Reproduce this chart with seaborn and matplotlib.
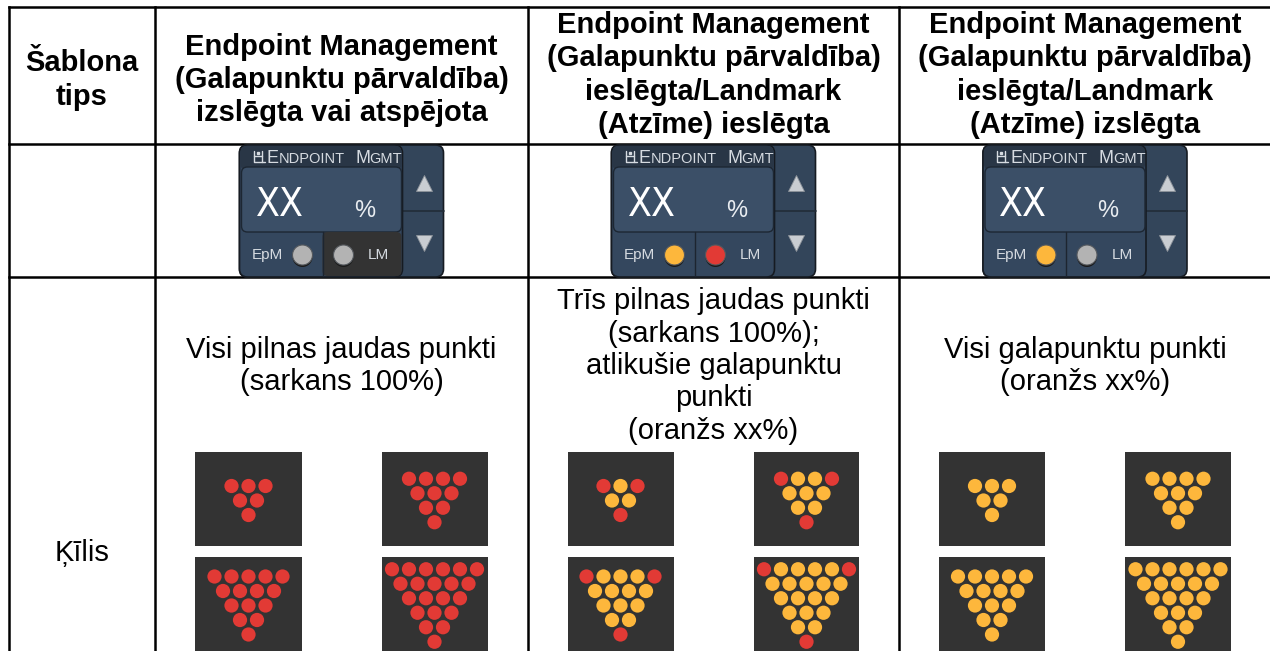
import pandas as pd
import matplotlib
matplotlib.use("Agg")
import matplotlib.pyplot as plt
import seaborn as sns
from matplotlib.patches import FancyBboxPatch, Circle

sns.set_theme(style="white")
plt.rcParams['font.family'] = ['Liberation Sans', 'DejaVu Sans']

# --- table content ---
header_labels = [
    "Šablona\ntips",
    "Endpoint Management\n(Galapunktu pārvaldība)\nizslēgta vai atspējota",
    "Endpoint Management\n(Galapunktu pārvaldība)\nieslēgta/Landmark\n(Atzīme) ieslēgta",
    "Endpoint Management\n(Galapunktu pārvaldība)\nieslēgta/Landmark\n(Atzīme) izslēgta",
]
row_label = "Ķīlis"
mode_texts = [
    "Visi pilnas jaudas punkti\n(sarkans 100%)",
    "Trīs pilnas jaudas punkti\n(sarkans 100%);\natlikušie galapunktu\npunkti\n(oranžs xx%)",
    "Visi galapunktu punkti\n(oranžs xx%)",
]
pin_rows = [3, 4, 5, 6]              # wedge sizes shown in each column
pin_modes = ["full", "mixed", "endpoint"]
epm_led = ["off", "orange", "orange"]
lm_led = ["off", "red", "off"]
lm_disabled = [True, False, False]
widget_value = "XX"

# colours
RED = "#e23a35"
ORANGE = "#fdb73c"
GREY_LED = "#b3b3b3"
led_colors = {"off": GREY_LED, "orange": ORANGE, "red": RED}

# layout (pixels)
W, H = 1270, 651
col_x = [9, 155, 528, 899, 1271]
row_y = [7, 144, 277]


def pin_table(n_rows, mode):
    rows = []
    for r in range(n_rows):
        n = n_rows - r
        for i in range(n):
            corner = (r == 0 and i in (0, n - 1)) or r == n_rows - 1
            if mode == "full" or (mode == "mixed" and corner):
                kind = "full"
            else:
                kind = "endpoint"
            rows.append({"x": (i - (n - 1) / 2) * 17,
                         "y": ((n_rows - 1) / 2 - r) * 14.5,
                         "kind": kind})
    return pd.DataFrame(rows)


def rbox(ax, x, y, w, h, r, fc, ec="none", lw=0.8, z=2):
    ax.add_patch(FancyBboxPatch((x, y), w, h, boxstyle=f"round,pad=0,rounding_size={r}",
                                fc=fc, ec=ec, lw=lw, zorder=z))


def draw_widget(ax, ox, oy, k):
    # arrow column and frame
    rbox(ax, ox, oy, 204, 132, 8, "#33455a", "#161b22", 1.2, 2)
    ax.plot([ox + 163, ox + 204], [oy + 66, oy + 66], color="#222c38", lw=1.2, zorder=3)
    ax.plot([ox + 184], [oy + 38], marker="^", ms=12, color="#c9cdd2", mec="#8d939a", mew=0.6, zorder=4)
    ax.plot([ox + 184], [oy + 98], marker="v", ms=12, color="#c9cdd2", mec="#8d939a", mew=0.6, zorder=4)
    # main panel
    rbox(ax, ox, oy, 163, 132, 8, "#34475e", "#161b22", 1.2, 3)
    rbox(ax, ox + 1, oy + 1, 161, 24, 6, "#293646", "none", 0, 3)
    rbox(ax, ox + 2, oy + 22, 160, 65, 6, "#3b4f67", "#1d2733", 1.0, 4)
    if lm_disabled[k]:
        rbox(ax, ox + 83, oy + 87, 79, 44, 5, "#333333", "none", 0, 4)
    ax.plot([ox + 83, ox + 83], [oy + 87, oy + 131], color="#1d2530", lw=1.0, zorder=5)
    # title
    tc = "#d6dbe1"
    ax.plot([ox + 14, ox + 14, ox + 25], [oy + 6, oy + 17, oy + 17], color=tc, lw=1.0, zorder=6)
    ax.plot([ox + 22, ox + 22], [oy + 6, oy + 17], color=tc, lw=1.0, zorder=6)
    ax.plot([ox + 14, ox + 22], [oy + 11, oy + 11], color=tc, lw=1.0, zorder=6)
    ax.plot([ox + 18], [oy + 8], marker="s", ms=1.5, color=tc, zorder=6)
    ax.text(ox + 27, oy + 18, "E", fontsize=13, color=tc, va="baseline", ha="left", zorder=6)
    ax.text(ox + 39, oy + 18, "NDPOINT", fontsize=10.5, color=tc, va="baseline", ha="left", zorder=6)
    ax.text(ox + 116, oy + 18, "M", fontsize=13, color=tc, va="baseline", ha="left", zorder=6)
    ax.text(ox + 130, oy + 18, "GMT", fontsize=10.5, color=tc, va="baseline", ha="left", zorder=6)
    # value
    ax.text(ox + 40, oy + 60, widget_value, fontsize=28, color="white", ha="center", va="center",
            family=["DejaVu Sans"], fontstretch="condensed", zorder=6)
    ax.text(ox + 125, oy + 66, "%", fontsize=17, color="#e8ecf0", ha="center", va="center", zorder=6)
    # leds
    ax.text(ox + 28, oy + 110, "EpM", fontsize=11, color="#d5dae0", ha="center", va="center", zorder=6)
    ax.text(ox + 139, oy + 110, "LM", fontsize=11, color="#d5dae0", ha="center", va="center", zorder=6)
    for cx, state in ((ox + 63, epm_led[k]), (ox + 104, lm_led[k])):
        ax.add_patch(Circle((cx, oy + 112), 10, fc="#1a1a1a", ec="none", zorder=6))
        ax.add_patch(Circle((cx, oy + 110), 10, fc=led_colors[state], ec="#55595e", lw=0.8, zorder=7))


fig = plt.figure(figsize=(12.7, 6.51), dpi=100)
fig.patch.set_facecolor("white")
ax = fig.add_axes([0, 0, 1, 1])
ax.set_xlim(0, W)
ax.set_ylim(H, 0)
ax.axis("off")

# grid lines
for x in col_x:
    ax.plot([x, x], [row_y[0], H + 5], color="black", lw=1.8, zorder=1, solid_capstyle="projecting")
for y in row_y:
    ax.plot([col_x[0], col_x[-1]], [y, y], color="black", lw=1.8, zorder=1, solid_capstyle="projecting")

centers = [(col_x[i] + col_x[i + 1]) / 2 for i in range(4)]

for i, label in enumerate(header_labels):
    ty = 75 if label.count("\n") >= 3 else 80
    ax.text(centers[i], ty, label, fontsize=21, fontweight="bold", color="black",
            ha="center", va="center", multialignment="center", linespacing=1.24)

ax.text(centers[0], 553, row_label, fontsize=21, color="black", ha="center", va="center")

for k in range(3):
    cx = centers[k + 1]
    draw_widget(ax, cx - 102, 145, k)
    ax.text(cx, 366, mode_texts[k], fontsize=21, color="black", ha="center", va="center",
            multialignment="center", linespacing=1.2)

    # wedge panels
    slots = [(cx - 146, 452), (cx + 40, 452), (cx - 146, 557), (cx + 40, 557)]
    for n_rows, (x0, y0) in zip(pin_rows, slots):
        iax = fig.add_axes([x0 / W, 1 - (y0 + 94) / H, 106 / W, 94 / H])
        iax.set_facecolor("#333333")
        df = pin_table(n_rows, pin_modes[k])
        sns.scatterplot(data=df, x="x", y="y", hue="kind",
                        palette={"full": RED, "endpoint": ORANGE},
                        s=105, linewidth=0, legend=False, ax=iax)
        iax.set_xlim(-53, 53)
        iax.set_ylim(-45.5, 48.5)
        iax.set(xlabel="", ylabel="", xticks=[], yticks=[])
        for sp in iax.spines.values():
            sp.set_visible(False)

fig.savefig("out.png", dpi=100)
